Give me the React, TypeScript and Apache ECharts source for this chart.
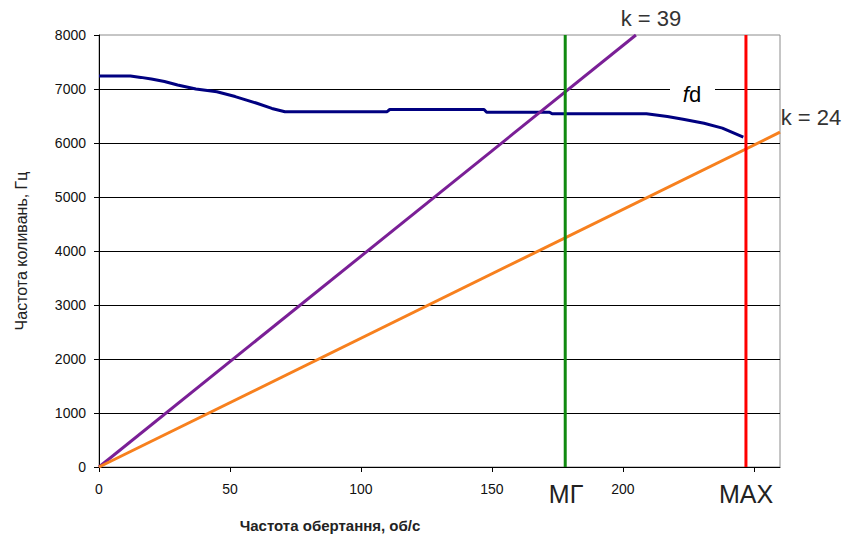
import React, { useEffect, useRef } from "react";
import * as echarts from "echarts";

// Rotation speed (rev/s) and blade natural frequency fd (Hz)
const fdRpm = [0, 12, 16, 20, 25, 30, 37, 45, 52, 60, 66, 71, 110, 111, 147, 148, 172, 173, 209, 217, 223, 231, 238, 246];
const fdHz = [7240, 7240, 7215, 7185, 7140, 7075, 7000, 6950, 6860, 6740, 6640, 6580, 6580, 6620, 6620, 6570, 6570, 6540, 6540, 6490, 6440, 6365, 6275, 6110];

// Excitation harmonic lines (endpoints)
const k39Rpm = [0, 205];
const k39Hz = [0, 8000];
const k24Rpm = [0, 260];
const k24Hz = [0, 6200];

// Operating modes
const mgRpm = 178;
const maxRpm = 247;
const yRange = [0, 8000];

const xTickLabels = ["0", "50", "100", "150", "200"];

const pairs = (xs: number[], ys: number[]) => xs.map((x, i) => [x, ys[i]]);

export default function App() {
  const ref = useRef<HTMLDivElement>(null);
  useEffect(() => {
    if (!ref.current) return;
    const chart = echarts.init(ref.current, null, { renderer: "svg" });
    const font = "Liberation Sans, Arial, sans-serif";
    chart.setOption({
      animation: false,
      backgroundColor: "#fff",
      grid: {
        left: 99,
        right: 71,
        top: 35,
        bottom: 76,
        show: true,
        borderColor: "#8c8c8c",
        borderWidth: 1,
        backgroundColor: "transparent",
      },
      xAxis: {
        type: "value",
        min: 0,
        max: 260,
        interval: 50,
        axisLine: { lineStyle: { color: "#000", width: 1 } },
        axisTick: { show: true, length: 5, lineStyle: { color: "#000" } },
        splitLine: { show: false },
        axisLabel: {
          margin: 15,
          color: "#111",
          fontFamily: font,
          fontSize: 14,
          showMaxLabel: false,
          formatter: (v: number) => (xTickLabels.includes(String(v)) ? String(v) : ""),
        },
      },
      yAxis: {
        type: "value",
        min: 0,
        max: 8000,
        interval: 1000,
        axisLine: { show: true, lineStyle: { color: "#000", width: 1 } },
        axisTick: { show: true, length: 5, lineStyle: { color: "#000" } },
        splitLine: { show: true, showMinLine: false, showMaxLine: false, lineStyle: { color: "#000", width: 1 } },
        axisLabel: { margin: 13, color: "#111", fontFamily: font, fontSize: 14, formatter: (v: number) => String(v) },
      },
      series: [
        {
          type: "line",
          data: pairs(fdRpm, fdHz),
          showSymbol: false,
          lineStyle: { color: "#000080", width: 3 },
          z: 3,
        },
        {
          type: "line",
          data: pairs(k39Rpm, k39Hz),
          showSymbol: false,
          lineStyle: { color: "#7a1f96", width: 3 },
          z: 4,
        },
        {
          type: "line",
          data: pairs(k24Rpm, k24Hz),
          showSymbol: false,
          lineStyle: { color: "#f7801e", width: 3 },
          z: 4,
        },
        {
          type: "line",
          data: [[mgRpm, yRange[0]], [mgRpm, yRange[1]]],
          showSymbol: false,
          lineStyle: { color: "#108a10", width: 3 },
          z: 5,
        },
        {
          type: "line",
          data: [[maxRpm, yRange[0]], [maxRpm, yRange[1]]],
          showSymbol: false,
          lineStyle: { color: "#ff0000", width: 3 },
          z: 5,
        },
      ],
      graphic: [
        {
          type: "text",
          x: 651,
          y: 18,
          style: { text: "k = 39", font: `22px ${font}`, fill: "#333", align: "center", verticalAlign: "middle" },
        },
        {
          type: "text",
          x: 811,
          y: 117,
          style: { text: "k = 24", font: `22px ${font}`, fill: "#333", align: "center", verticalAlign: "middle" },
        },
        {
          type: "rect",
          shape: { x: 670, y: 82, width: 45, height: 22 },
          style: { fill: "#fff" },
          z: 100,
        },
        {
          type: "text",
          x: 692,
          y: 94,
          z: 101,
          style: {
            text: "{f|f}{d|d}",
            align: "center",
            verticalAlign: "middle",
            rich: {
              f: { fontFamily: font, fontSize: 22, fontStyle: "italic", color: "#333" },
              d: { fontFamily: font, fontSize: 22, color: "#333" },
            },
          },
        },
        {
          type: "text",
          x: 566,
          y: 494,
          style: { text: "МГ", font: `25px ${font}`, fill: "#222", align: "center", verticalAlign: "middle" },
        },
        {
          type: "text",
          x: 746,
          y: 494,
          style: { text: "MAX", font: `25px ${font}`, fill: "#222", align: "center", verticalAlign: "middle" },
        },
        {
          type: "text",
          x: 330,
          y: 525,
          style: { text: "Частота обертання, об/с", font: `bold 15px ${font}`, fill: "#222", align: "center", verticalAlign: "middle" },
        },
        {
          type: "text",
          x: 21,
          y: 251,
          rotation: Math.PI / 2,
          style: { text: "Частота коливань, Гц", font: `16px ${font}`, fill: "#222", align: "center", verticalAlign: "middle" },
        },
      ],
    });
    return () => chart.dispose();
  }, []);
  return <div ref={ref} style={{ width: 851, height: 543, position: "absolute", left: 0, top: 0 }} />;
}
